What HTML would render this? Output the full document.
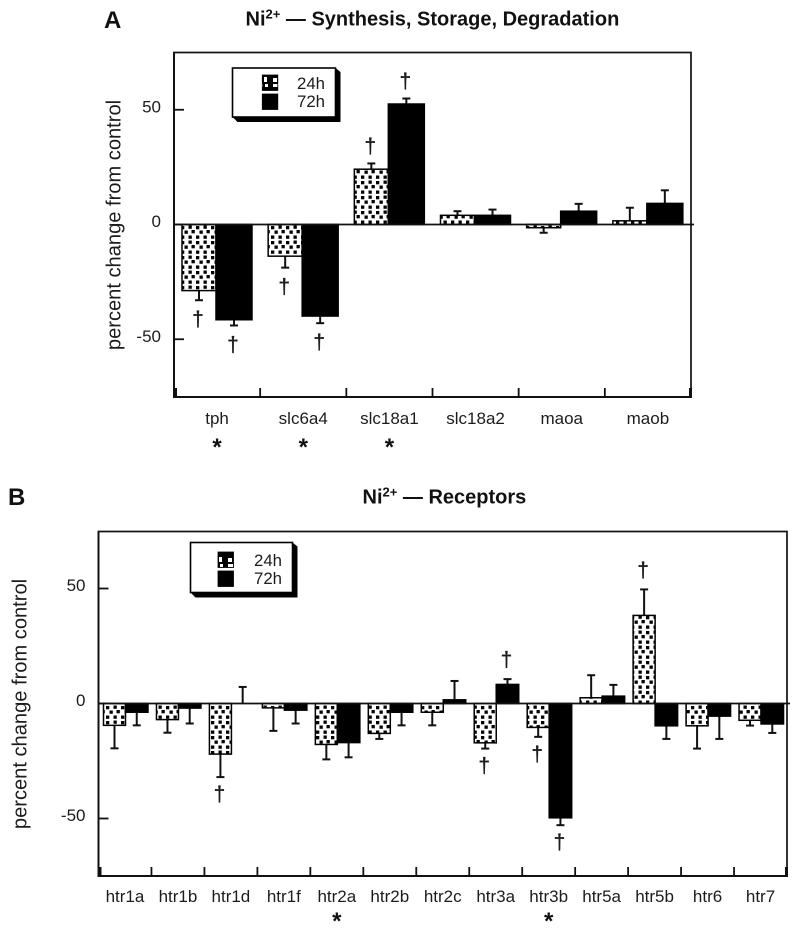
<!DOCTYPE html>
<html lang="en">
<head>
<meta charset="utf-8">
<title>Ni2+ percent change charts</title>
<style>
html,body{margin:0;padding:0;background:#fff}
svg{display:block;filter:blur(0.35px)}
text{font-family:"Liberation Sans",sans-serif;fill:#1c1c1c}
.b{font-weight:bold;fill:#111}
</style>
</head>
<body>
<svg id="fig" xmlns="http://www.w3.org/2000/svg" width="800" height="933" viewBox="0 0 800 933">
<defs>
<pattern id="dots" patternUnits="userSpaceOnUse" width="15" height="15">
<rect width="15" height="15" fill="#fff"/>
<rect x="1" y="1" width="3.3" height="3.3" fill="#000"/>
<rect x="8.5" y="0.5" width="3.3" height="3.3" fill="#000"/>
<rect x="4.5" y="5.5" width="3.3" height="3.3" fill="#000"/>
<rect x="11.5" y="5" width="3.3" height="3.3" fill="#000"/>
<rect x="1" y="10.5" width="3.3" height="3.3" fill="#000"/>
<rect x="8.5" y="10.5" width="3.3" height="3.3" fill="#000"/>
</pattern>
<pattern id="swatch" patternUnits="userSpaceOnUse" width="15" height="15">
<rect width="15" height="15" fill="#000"/>
<rect x="3" y="3" width="4" height="4" fill="#fff"/>
<rect x="9" y="2" width="3" height="5" fill="#fff"/>
<rect x="3" y="9" width="5" height="3" fill="#fff"/>
<rect x="10" y="9" width="3" height="3" fill="#fff"/>
</pattern>
</defs>
<g id="panel-a"></g>
<g id="panel-b"></g>
</svg>
<script>
var NS = 'http://www.w3.org/2000/svg';

var categoriesA = ['tph','slc6a4','slc18a1','slc18a2','maoa','maob'];
var values24A = [-28.8,-13.8,24.1,4,-1.4,1.6];
var values72A = [-41.5,-39.9,52.5,4,5.8,9.2];
var errors24A = [4.2,5,2.5,1.8,2.2,5.7];
var errors72A = [2.5,3.1,2.4,2.5,3.2,5.7];
var dagger24A = [1,1,1,0,0,0];
var dagger72A = [1,1,1,0,0,0];
var starA = [1,1,1,0,0,0];

var categoriesB = ['htr1a','htr1b','htr1d','htr1f','htr2a','htr2b','htr2c','htr3a','htr3b','htr5a','htr5b','htr6','htr7'];
var values24B = [-9.5,-7,-22,-1.9,-17.8,-13,-3.8,-17.1,-10.4,2.5,38.3,-9.7,-7.3];
var values72B = [-3.8,-2,0,-2.9,-17,-3.8,1.6,8.3,-49.7,3.2,-9.7,-5.5,-8.9];
var errors24B = [10,5.7,10,10,6.5,2.4,5.7,2.5,4.1,9.8,11.3,9.9,2.3];
var errors72B = [5.7,6.7,7.2,5.8,6.4,5.7,8.2,2.3,3.2,4.9,5.7,9.9,3.9];
var dagger24B = [0,0,1,0,0,0,0,1,1,0,1,0,0];
var dagger72B = [0,0,0,0,0,0,0,1,1,0,0,0,0];
var starB = [0,0,0,0,1,0,0,0,1,0,0,0,0];

var yTicks = [50,0,-50];
var yTickLabels = ['50','0','-50'];
var seriesNames = ['24h','72h'];

function el(parent, tag, attrs, txt) {
  var e = document.createElementNS(NS, tag);
  for (var k in attrs) e.setAttribute(k, attrs[k]);
  if (txt !== undefined) e.textContent = txt;
  parent.appendChild(e);
  return e;
}

function drawPanel(p) {
  var g = document.getElementById(p.id);
  var n = p.categories.length;
  var y = function (v) { return p.y0 - v * p.scale; };
  var groupX = function (i) { return p.left + i * (p.right - p.left) / n; };

  var letter = el(g, 'text', {x: p.letterX, y: p.letterY, 'class': 'b', 'font-size': 24}, p.letter);
  
  

  var title = el(g, 'text', {x: p.titleX, y: p.titleY, 'class': 'b', 'font-size': 20});
  
  
  el(title, 'tspan', {}, 'Ni');
  el(title, 'tspan', {'font-size': 13, dy: -7}, '2+');
  el(title, 'tspan', {dy: 7}, ' \u2014 ' + p.title);

  var ylab = el(g, 'text', {transform: 'translate(' + p.ylabX + ',' + p.ylabY + ') rotate(-90)', 'text-anchor': 'middle', 'font-size': 20.1}, 'percent change from control');
  
  

  var frame = el(g, 'rect', {x: p.left, y: p.top, width: p.right - p.left, height: p.bottom - p.top, fill: '#fff', stroke: '#111', 'stroke-width': 1.7});
  
  

  var axisLeft = el(g, 'line', {x1: p.left, x2: p.left, y1: p.top, y2: p.bottom + 1, stroke: '#111', 'stroke-width': 2});
  
  
  var axisBottom = el(g, 'line', {x1: p.left - 1, x2: p.right + 1, y1: p.bottom, y2: p.bottom, stroke: '#111', 'stroke-width': 2});
  
  

  yTicks.forEach(function (t, i) {
    var tk = el(g, 'line', {x1: p.left, x2: p.left + 10, y1: y(t), y2: y(t), stroke: '#111', 'stroke-width': 1.8});
    
    
    var lb = el(g, 'text', {x: p.left - 13, y: y(t) + 2.5, 'text-anchor': 'end', 'font-size': 17}, yTickLabels[i]);
    
    
  });

  for (var i = 0; i <= n; i++) {
    var tx = groupX(i);
    var edge = (i === 0 || i === n);
    var xt = el(g, 'line', {x1: tx + (i === 0 ? 1.5 : (i === n ? -0.5 : 0)), x2: tx + (i === 0 ? 1.5 : (i === n ? -0.5 : 0)), y1: p.bottom, y2: p.bottom - 9, stroke: '#111', 'stroke-width': edge ? 3 : 1.8});
    
    
  }

  var drawBar = function (i, v, err, off0, off1, fillId, dag, name) {
    var gx = groupX(i);
    var x0 = gx + off0, x1 = gx + off1, cx = (x0 + x1) / 2;
    var sign = v < 0 ? -1 : 1;
    var tipV = v + sign * err;
    var stem = el(g, 'line', {x1: cx, x2: cx, y1: y(v), y2: y(tipV), stroke: '#111', 'stroke-width': 2});
    
    
    var cap = el(g, 'line', {x1: cx - 4, x2: cx + 4, y1: y(tipV), y2: y(tipV), stroke: '#111', 'stroke-width': 2});
    
    
    var top = Math.min(y(v), p.y0), h = Math.abs(y(v) - p.y0);
    if (v !== 0) {
      var bar = el(g, 'rect', {x: x0, y: top, width: x1 - x0, height: h, fill: fillId, stroke: '#000', 'stroke-width': 1.5});
      
      
    }
    if (dag) {
      var dy = sign > 0 ? y(tipV) - p.dagAbove : y(tipV) + p.dagBelow;
      var d = el(g, 'text', {x: cx - 1, y: dy, 'text-anchor': 'middle', 'font-size': 21, stroke: '#1c1c1c', 'stroke-width': 0.35}, '\u2020');
      
      
    }
  };

  p.categories.forEach(function (c, i) {
    drawBar(i, p.v24[i], p.e24[i], p.off[0], p.off[1], 'url(#dots)', p.d24[i], 'bar-' + c + '-24h');
    drawBar(i, p.v72[i], p.e72[i], p.off[1], p.off[2], '#000', p.d72[i], 'bar-' + c + '-72h');
    var cxx = groupX(i) + (p.right - p.left) / n / 2;
    var cl = el(g, 'text', {x: cxx, y: p.catY, 'text-anchor': 'middle', 'font-size': 17}, c);
    
    
    if (p.star[i]) {
      var s = el(g, 'text', {x: cxx, y: p.starY, 'text-anchor': 'middle', 'class': 'b', 'font-size': 24}, '*');
      
      
    }
  });

  var zero = el(g, 'line', {x1: p.left, x2: p.right + 3, y1: p.y0, y2: p.y0, stroke: '#111', 'stroke-width': 1.8});
  
  

  var L = p.legend;
  var lg = el(g, 'g', {});
  
  
  var rx = L.x + L.w, by = L.y + L.h;
  var shadow = el(lg, 'polygon', {points: rx + ',' + L.y + ' ' + (rx + 5) + ',' + (L.y + 4) + ' ' + (rx + 5) + ',' + (by + 5) + ' ' + (L.x + 5) + ',' + (by + 5) + ' ' + L.x + ',' + by, fill: '#000'});
  
  
  var box = el(lg, 'rect', {x: L.x, y: L.y, width: L.w, height: L.h, fill: '#fff', stroke: '#000', 'stroke-width': 1.6});
  
  
  seriesNames.forEach(function (nm, i) {
    var sw = el(lg, 'rect', {x: L.swX, y: L.swY + i * 19, width: 15.5, height: 15.5, fill: i === 0 ? 'url(#swatch)' : '#000', stroke: '#000', 'stroke-width': 0.8});
    
    
    var tx = el(lg, 'text', {x: L.txX, y: L.swY + 14 + i * 18, 'font-size': 16.8}, nm);
    
    
  });
}

drawPanel({
  id: 'panel-a', letter: 'A', letterX: 104, letterY: 28,
  title: 'Synthesis, Storage, Degradation', titleX: 245.5, titleY: 25.7,
  left: 174, right: 691, top: 52.5, bottom: 397, y0: 224.5, scale: 2.295,
  ylabX: 120.5, ylabY: 225,
  categories: categoriesA, v24: values24A, v72: values72A, e24: errors24A, e72: errors72A,
  d24: dagger24A, d72: dagger72A, star: starA,
  dagAbove: 10.5, dagBelow: 26,
  off: [8, 42, 78], catY: 424, starY: 455,
  legend: {x: 232.5, y: 68, w: 103, h: 49, swX: 262.3, swY: 75, txX: 297}
});

drawPanel({
  id: 'panel-b', letter: 'B', letterX: 8, letterY: 505,
  title: 'Receptors', titleX: 362.5, titleY: 503.3,
  left: 98.5, right: 787, top: 531.5, bottom: 876, y0: 703.5, scale: 2.3,
  ylabX: 26.5, ylabY: 704,
  categories: categoriesB, v24: values24B, v72: values72B, e24: errors24B, e72: errors72B,
  d24: dagger24B, d72: dagger72B, star: starB,
  dagAbove: 12.5, dagBelow: 24,
  off: [5, 27, 49.5], catY: 902, starY: 929,
  legend: {x: 190.5, y: 542.5, w: 102, h: 50, swX: 218, swY: 552, txX: 254}
});
</script>
</body>
</html>
